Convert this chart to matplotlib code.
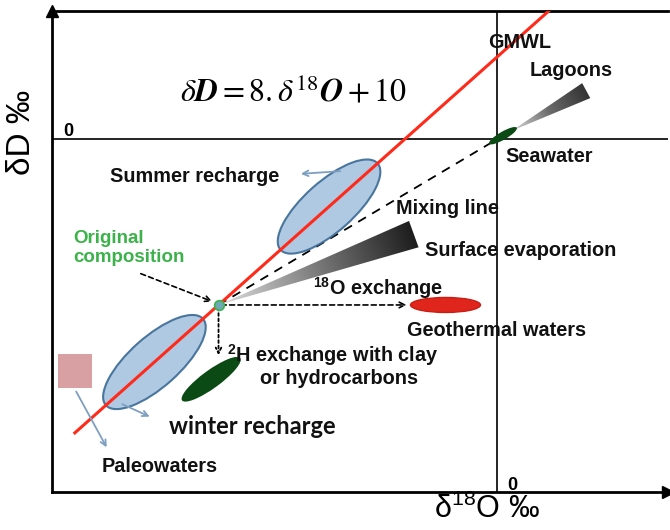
import numpy as np
import matplotlib
matplotlib.use("Agg")
import matplotlib.pyplot as plt
import matplotlib.transforms as mtransforms
from matplotlib.patches import Ellipse, Polygon, Rectangle
from matplotlib.colors import LinearSegmentedColormap

plt.rcParams['font.family'] = ['Liberation Sans', 'DejaVu Sans']
plt.rcParams['mathtext.fontset'] = 'custom'
plt.rcParams['mathtext.rm'] = 'Liberation Sans'
plt.rcParams['mathtext.it'] = 'Liberation Sans:italic'
plt.rcParams['mathtext.bf'] = 'Liberation Sans:bold'

# global meteoric water line: dD = 8 * d18O + 10
gmwl_slope = 8.0
gmwl_intercept = 10.0
gmwl_d18o = [-5.73, 0.72]

# end members, as (d18O, dD) in permil
original = (-3.78, -20.24)
seawater = (0.08, 0.4)
lagoon_end = (1.21, 5.9)
evap_end = (-1.13, -11.6)
geothermal = (-0.70, -20.24)
o18_exchange_end = -1.19     # d18O reached by 18O exchange
h2_exchange_end = -26.7      # dD reached by 2H exchange
clay = (-3.88, -29.3)
winter_d18o = -4.65
summer_d18o = -2.28
paleo = (-5.73, -28.3)

xlim = (-6.04, 2.32)
ylim = (-43.05, 15.61)

W, H = 670, 530
fig = plt.figure(figsize=(W / 100, H / 100), dpi=100)
ax = fig.add_axes([52 / W, 38 / H, 616 / W, 481 / H])
ax.set_xlim(*xlim)
ax.set_ylim(*ylim)
ax.set_xticks([])
ax.set_yticks([])
ax.spines['right'].set_visible(False)
for s in ('left', 'top', 'bottom'):
    ax.spines[s].set_linewidth(2)
ax.plot([0], [1], marker='^', ms=9, color='black', transform=ax.transAxes, clip_on=False)
ax.plot([1], [0], marker='>', ms=9, color='black', transform=ax.transAxes, clip_on=False)


def px(x, y):
    return x / W, 1 - y / H


def gmwl(x):
    return gmwl_slope * x + gmwl_intercept


def ellipse(center, length, width, angle, **kw):
    # size in pixels, anchored at a data point
    tr = fig.dpi_scale_trans + mtransforms.ScaledTranslation(center[0], center[1], ax.transData)
    e = Ellipse((0, 0), length / 100, width / 100, angle=angle, transform=tr, **kw)
    ax.add_patch(e)
    return e


def wedge(start, end, width, colors, zorder=3):
    p0 = ax.transData.transform(start)
    p1 = ax.transData.transform(end)
    d = p1 - p0
    n = np.array([-d[1], d[0]]) / np.hypot(*d)
    corners = ax.transData.inverted().transform([p0, p1 + n * width / 2, p1 - n * width / 2])
    patch = Polygon(corners, closed=True, fc='none', ec='none')
    ax.add_patch(patch)
    x0, x1 = corners[:, 0].min(), corners[:, 0].max()
    y0, y1 = corners[:, 1].min(), corners[:, 1].max()
    gx, gy = np.meshgrid(np.linspace(x0, x1, 200), np.linspace(y0, y1, 200))
    disp = ax.transData.transform(np.column_stack([gx.ravel(), gy.ravel()]))
    t = ((disp - p0) @ d) / (d @ d)
    t = np.clip(t, 0, 1).reshape(gx.shape)
    cmap = LinearSegmentedColormap.from_list('w', colors)
    im = ax.imshow(t, extent=(x0, x1, y0, y1), origin='lower', cmap=cmap,
                   vmin=0, vmax=1, aspect='auto', zorder=zorder, interpolation='bilinear')
    im.set_clip_path(patch)


# zero lines
ax.axhline(0, color='black', lw=1.2, zorder=1)
ax.axvline(0, color='black', lw=1.2, zorder=1)

# GMWL
gx = np.array(gmwl_d18o)
ax.plot(gx, gmwl(gx), color='#ff2a1a', lw=2.2, zorder=4)
p_a = ax.transData.transform((gx[0], gmwl(gx[0])))
p_b = ax.transData.transform((gx[1], gmwl(gx[1])))
gmwl_angle = np.degrees(np.arctan2(p_b[1] - p_a[1], p_b[0] - p_a[0]))

# recharge ellipses on the GMWL
for x in (winter_d18o, summer_d18o):
    ellipse((x, gmwl(x)), 130, 50, gmwl_angle, fc='#a7c3e0', ec='#3a6a94',
            lw=1.5, alpha=0.9, zorder=3)

# mixing line to seawater
ax.plot([original[0], seawater[0]], [original[1], seawater[1]], color='black',
        lw=1.3, ls=(0, (5, 4)), zorder=2)

# evaporation wedges
wedge(original, evap_end, 28, ['#e0e0e0', '#7a7a7a', '#1c1c1c'])
wedge((seawater[0] + 0.12, seawater[1] + 0.6), lagoon_end, 17,
      ['#d8d8d8', '#6a6a6a', '#333333'])

# seawater
ellipse(seawater, 32, 8, 30, fc='#0b4a14', ec='none', zorder=5)

# 18O exchange towards geothermal waters
ax.annotate('', xy=(o18_exchange_end, original[1]), xytext=original,
            arrowprops=dict(arrowstyle='->', ls=(0, (3, 2)), lw=1.2, color='black'), zorder=4)
ellipse(geothermal, 70, 15, 0, fc='#e0261c', ec='#c81e14', lw=1, zorder=4)

# 2H exchange with clay
ax.annotate('', xy=(original[0], h2_exchange_end), xytext=original,
            arrowprops=dict(arrowstyle='->', ls=(0, (1.5, 1.5)), lw=1.3, color='black'), zorder=4)
ellipse(clay, 72, 18, 36, fc='#0b4a14', ec='none', zorder=4)

# original composition point
ax.plot(*original, marker='o', ms=7, mfc='#6fa8b8', mec='#3cb34a', mew=1.2, zorder=6)

# paleowaters
sq = ax.transData.transform(paleo)
ll = ax.transData.inverted().transform(sq - 17)
ur = ax.transData.inverted().transform(sq + 17)
ax.add_patch(Rectangle(ll, ur[0] - ll[0], ur[1] - ll[1], fc='#d9a0a3', ec='none', zorder=2))

# pointers
blue = '#7f9fc0'
arrow_kw = dict(arrowstyle='->', lw=1.3, color=blue)
ax.annotate('', xy=(-2.70, -4.27), xytext=(-2.09, -3.9), arrowprops=arrow_kw, zorder=5)
ax.annotate('', xy=(-4.68, -34.0), xytext=(-5.12, -32.2), arrowprops=arrow_kw, zorder=5)
ax.annotate('', xy=(-5.28, -37.9), xytext=(-5.73, -30.5), arrowprops=arrow_kw, zorder=5)
ax.annotate('', xy=(original[0] - 0.05, original[1] + 0.3), xytext=(-4.87, -16.3),
            arrowprops=dict(arrowstyle='->', ls=(0, (3, 2)), lw=1.2, color='black'), zorder=5)

# text
lbl = dict(fontsize=14.3, fontweight='bold', color='#111111')
fig.text(*px(22, 132), 'δD ‰', fontsize=24, rotation=90, ha='center', va='center')
fig.text(*px(487, 509), 'δ$^{18}$O ‰', fontsize=22, ha='center', va='center')
fig.text(*px(294, 92), r'$\delta\mathbfit{D} = 8.\delta^{18}\mathbfit{O} + 10$',
         math_fontfamily='stix', fontsize=23, ha='center', va='center')
fig.text(*px(68, 131), '0', fontsize=13, fontweight='bold', ha='center', va='center')
fig.text(*px(512, 485), '0', fontsize=13, fontweight='bold', ha='center', va='center')
fig.text(*px(520, 43), 'GMWL', ha='center', va='center', **lbl)
fig.text(*px(571, 71), 'Lagoons', ha='center', va='center', **lbl)
fig.text(*px(549, 157), 'Seawater', ha='center', va='center', **lbl)
fig.text(*px(195, 177), 'Summer recharge', ha='center', va='center', **lbl)
fig.text(*px(447, 208), 'Mixing line', ha='center', va='center', **lbl)
fig.text(*px(521, 251), 'Surface evaporation', ha='center', va='center', **lbl)
fig.text(*px(73, 248), 'Original\ncomposition', ha='left', va='center', fontsize=13.5,
         fontweight='bold', color='#3cb34a', linespacing=1.15)
fig.text(*px(378, 288), r'$^{\mathbf{18}}$O exchange', ha='center', va='center', **lbl)
fig.text(*px(497, 330), 'Geothermal waters', ha='center', va='center', **lbl)
fig.text(*px(333, 355), r'$^{\mathbf{2}}$H exchange with clay', ha='center', va='center', **lbl)
fig.text(*px(339, 378), 'or hydrocarbons', ha='center', va='center', **lbl)
fig.text(*px(252, 426), 'winter recharge', ha='center', va='center', fontsize=17,
         fontweight='bold', family=['Lato', 'DejaVu Sans'], color='#111111')
fig.text(*px(160, 466), 'Paleowaters', ha='center', va='center', **lbl)

fig.savefig('out.png', dpi=100, facecolor='white')
